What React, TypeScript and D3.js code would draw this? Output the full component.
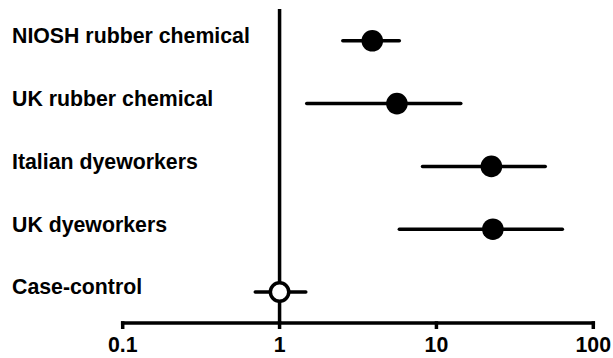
import React from "react";
import * as d3 from "d3";

const studies = [
  "NIOSH rubber chemical",
  "UK rubber chemical",
  "Italian dyeworkers",
  "UK dyeworkers",
  "Case-control",
];
const estimates = [3.9, 5.6, 22.4, 22.9, 1.0];
const lowerCI = [2.53, 1.49, 8.15, 5.8, 0.7];
const upperCI = [5.8, 14.3, 49.4, 63.5, 1.47];
const openMarker = [false, false, false, false, true];
const tickValues = [0.1, 1, 10, 100];
const tickLabels = ["0.1", "1", "10", "100"];

const W = 613;
const H = 358;
const FONT = "'Liberation Sans', Arial, Helvetica, sans-serif";
const LW = 3.5;

export default function App() {
  const x = d3.scaleLog().domain([0.1, 100]).range([122.7, 593.3]);
  const y = d3
    .scalePoint<string>()
    .domain(studies)
    .range([40.8, 292]);
  const axisY = 323;

  return (
    <svg
      width={W}
      height={H}
      style={{ position: "absolute", left: 0, top: 0, background: "#fff" }}
    >
      {/* reference line at 1 */}
      <line x1={x(1)} x2={x(1)} y1={9} y2={axisY} stroke="#000" strokeWidth={LW} />

      {/* x axis */}
      <line x1={x(0.1) - LW / 2} x2={x(100) + LW / 2} y1={axisY} y2={axisY} stroke="#000" strokeWidth={LW} />
      {tickValues.map((t, i) => (
        <g key={t}>
          <line x1={x(t)} x2={x(t)} y1={axisY - LW / 2} y2={axisY + 6} stroke="#000" strokeWidth={LW} />
          <text
            x={x(t)}
            y={352}
            textAnchor="middle"
            fontFamily={FONT}
            fontWeight="bold"
            fontSize={21.3}
            fill="#000"
          >
            {tickLabels[i]}
          </text>
        </g>
      ))}

      {/* study rows */}
      {studies.map((s, i) => {
        const cy = y(s) as number;
        return (
          <g key={s}>
            <text
              x={12}
              y={cy + 2.3}
              fontFamily={FONT}
              fontWeight="bold"
              fontSize={21.3}
              fill="#000"
            >
              {s}
            </text>
            <line
              x1={x(lowerCI[i])}
              x2={x(upperCI[i])}
              y1={cy}
              y2={cy}
              stroke="#000"
              strokeWidth={LW}
              strokeLinecap="round"
            />
            {openMarker[i] ? (
              <circle cx={x(estimates[i])} cy={cy} r={9.2} fill="#fff" stroke="#000" strokeWidth={LW} />
            ) : (
              <circle cx={x(estimates[i])} cy={cy} r={10.8} fill="#000" />
            )}
          </g>
        );
      })}
    </svg>
  );
}
